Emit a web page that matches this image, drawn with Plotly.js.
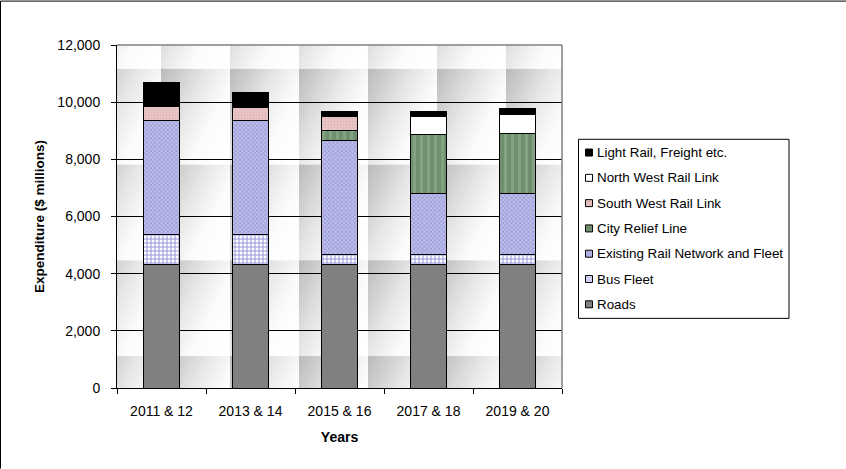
<!DOCTYPE html>
<html>
<head>
<meta charset="utf-8">
<script src="https://cdn.plot.ly/plotly-3.0.1.min.js"></script>
<style>
html,body{margin:0;padding:0;background:#fff;}
#chart{width:846px;height:469px;}
</style>
</head>
<body>
<div id="chart"></div>
<script>
// ---- data ----
const categories = ["2011 & 12", "2013 & 14", "2015 & 16", "2017 & 18", "2019 & 20"];
const roads          = [4330, 4330, 4330, 4330, 4330];
const busFleet       = [1050, 1050, 345, 345, 345];
const existingRail   = [3975, 3975, 3975, 2125, 2125];
const cityRelief     = [0, 0, 360, 2060, 2090];
const southWest      = [490, 465, 490, 0, 0];
const northWest      = [0, 0, 0, 640, 675];
const lightRail      = [835, 515, 165, 175, 200];
const yTickVals = [0, 2000, 4000, 6000, 8000, 10000, 12000];

// ---- geometry helpers (pixels -> paper) ----
const PL = 117, PR = 562, PT = 44.5, PB = 388.3;
const px = v => (v - PL) / (PR - PL);
const py = v => (PB - v) / (PB - PT);

// ---- background tile image (plot area texture) ----
const bgSvg =
 '<svg xmlns="http://www.w3.org/2000/svg" width="445" height="344" viewBox="0 0 445 344">' +
 '<defs>' +
 '<linearGradient id="g" x1="0" y1="0" x2="1" y2="0.7">' +
 '<stop offset="0" stop-color="#bababa"/><stop offset="0.45" stop-color="#e6e6e6"/>' +
 '<stop offset="0.75" stop-color="#fbfbfb"/><stop offset="1" stop-color="#ffffff"/></linearGradient>' +
 '<pattern id="p" patternUnits="userSpaceOnUse" x="-25" y="24" width="69" height="96">' +
 '<rect width="69" height="96" fill="url(#g)"/></pattern>' +
 '</defs>' +
 '<rect width="445" height="344" fill="url(#p)"/></svg>';
const bgUri = 'data:image/svg+xml;charset=utf-8,' + encodeURIComponent(bgSvg);

const line = {color: '#000', width: 1};
function mk(name, y, color, pattern) {
  return {
    type: 'bar', name: name, x: categories, y: y,
    marker: Object.assign({color: color, line: line}, pattern ? {pattern: pattern} : {}),
    hoverinfo: 'name+y', showlegend: false
  };
}

const traces = [
  mk('Roads', roads, '#808080'),
  mk('Bus Fleet', busFleet, '#ffffff', {shape: '+', fgcolor: '#3030b4', bgcolor: '#ffffff', size: 4, solidity: 0.45, fillmode: 'overlay'}),
  mk('Existing Rail Network and Fleet', existingRail, '#b8b8e8', {shape: 'x', fgcolor: '#6464c4', bgcolor: '#bebeea', size: 3, solidity: 0.4, fillmode: 'overlay'}),
  mk('City Relief Line', cityRelief, '#6f8f6f', {shape: '|', fgcolor: '#9ab89a', bgcolor: '#6f8f6f', size: 7, solidity: 0.4, fillmode: 'overlay'}),
  mk('South West Rail Link', southWest, '#e6c2c2', {shape: '.', fgcolor: '#d2a4a4', bgcolor: '#e9c6c6', size: 3, solidity: 0.3, fillmode: 'overlay'}),
  mk('North West Rail Link', northWest, '#ffffff'),
  mk('Light Rail, Freight etc.', lightRail, '#000000')
];
const legendSwatch = ['#808080', '#d0d0f2', '#aeaee4', '#6f8f6f', '#e2baba', '#ffffff', '#000000'];

const fam = 'Arial, "Liberation Sans", sans-serif';
const font = {family: fam, size: 13, color: '#000'};

// ---- custom legend (Excel-style, small swatches) ----
const legShapes = [], legAnn = [];
legShapes.push({type: 'rect', xref: 'paper', yref: 'paper', x0: px(578.5), x1: px(789), y0: py(139), y1: py(318.5),
  line: {color: '#000', width: 1}, fillcolor: '#fff', layer: 'above'});
const rev = traces.slice().reverse();
const swRev = legendSwatch.slice().reverse();
rev.forEach((t, i) => {
  const cy = 152.3 + i * 25.35;
  legShapes.push({type: 'rect', xref: 'paper', yref: 'paper', x0: px(585.5), x1: px(592.5), y0: py(cy - 3.5), y1: py(cy + 3.5),
    line: {color: '#000', width: 1}, fillcolor: swRev[i], layer: 'above'});
  legAnn.push({xref: 'paper', yref: 'paper', x: px(595), y: py(cy), xanchor: 'left', yanchor: 'middle',
    text: t.name, showarrow: false, font: {family: fam, size: 13.4, color: '#000'}});
});

const layout = {
  width: 846, height: 469,
  margin: {l: PL, r: 846 - PR, t: PT, b: 469 - PB, pad: 0},
  paper_bgcolor: '#ffffff',
  plot_bgcolor: 'rgba(0,0,0,0)',
  font: font,
  barmode: 'stack',
  bargap: 0.605,
  showlegend: false,
  xaxis: {
    type: 'category',
    showline: true, linecolor: '#000', linewidth: 1,
    ticks: 'outside', ticklen: 5, tickcolor: '#000', tickson: 'boundaries',
    showgrid: false, zeroline: false,
    tickfont: {family: fam, size: 14, color: '#000'},
    ticklabelstandoff: 10,
    title: {text: '<b>Years</b>', font: {family: fam, size: 14, color: '#000'}, standoff: 14}
  },
  yaxis: {
    range: [0, 12000], tickvals: yTickVals, tickformat: ',',
    showline: true, linecolor: '#000', linewidth: 1,
    ticks: 'outside', ticklen: 5, tickcolor: '#000',
    showgrid: true, gridcolor: '#000', gridwidth: 1, zeroline: false,
    tickfont: {family: fam, size: 14, color: '#000'},
    ticklabelstandoff: 8,
    title: {text: '<b>Expenditure ($ millions)</b>', font: {family: fam, size: 13.5, color: '#000'}, standoff: 9}
  },
  images: [{
    source: bgUri, xref: 'paper', yref: 'paper', x: 0, y: 1, sizex: 1, sizey: 1,
    xanchor: 'left', yanchor: 'top', sizing: 'stretch', layer: 'below'
  }],
  shapes: [
    {type: 'line', xref: 'paper', yref: 'paper', x0: 0, x1: 1, y0: 1, y1: 1, line: {color: '#808080', width: 1.5}, layer: 'above'},
    {type: 'line', xref: 'paper', yref: 'paper', x0: 1, x1: 1, y0: 0, y1: 1, line: {color: '#808080', width: 1.5}, layer: 'above'},
    {type: 'line', xref: 'paper', yref: 'paper', x0: px(0.5), x1: px(846), y0: py(0.5), y1: py(0.5), line: {color: '#000', width: 1}},
    {type: 'line', xref: 'paper', yref: 'paper', x0: px(0.5), x1: px(0.5), y0: py(469), y1: py(0.5), line: {color: '#000', width: 1}}
  ].concat(legShapes),
  annotations: legAnn
};

Plotly.newPlot('chart', traces, layout, {displayModeBar: false, staticPlot: true});
</script>
</body>
</html>
